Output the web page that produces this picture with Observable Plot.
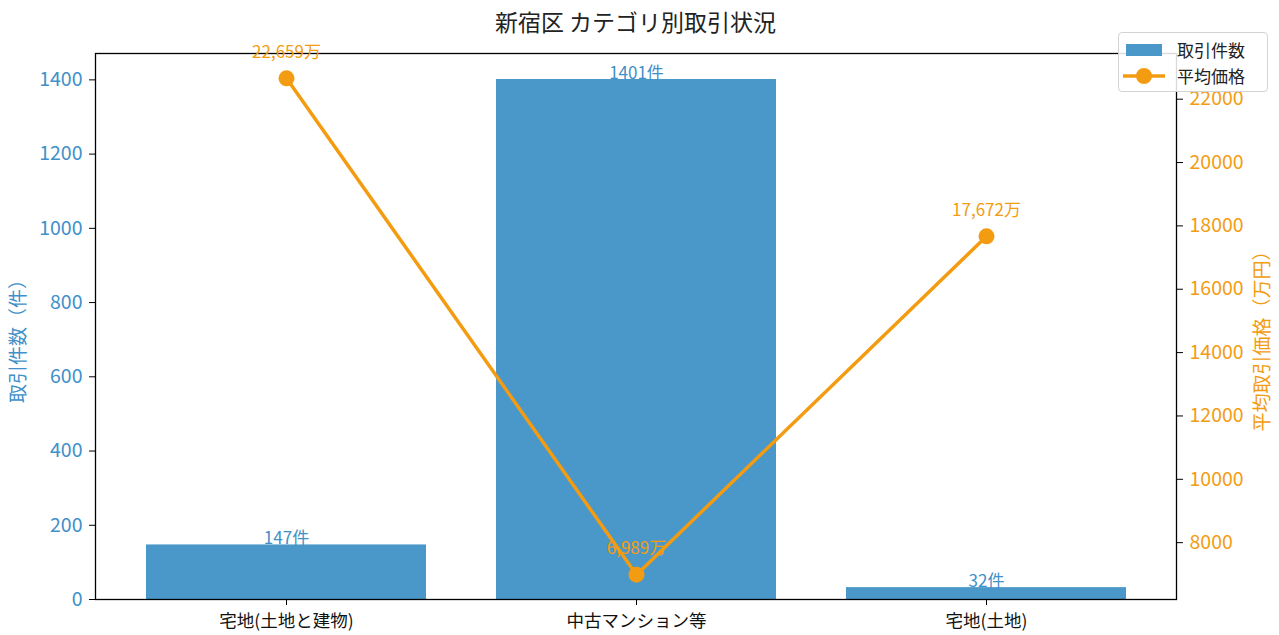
<!DOCTYPE html>
<html><head><meta charset="utf-8">
<script src="https://cdn.jsdelivr.net/npm/d3@7"></script>
<script src="https://cdn.jsdelivr.net/npm/@observablehq/plot@0.6"></script>
<style>
body{margin:0;background:#fff;font-family:"Noto Sans CJK JP",sans-serif;}
#wrap{position:relative;width:1279px;height:635px;overflow:hidden;}
#wrap svg.plot{position:absolute;left:0;top:0;}
#title{position:absolute;left:95px;width:1081px;top:6px;text-align:center;font-size:23px;line-height:30px;color:#222;}
#legend{position:absolute;left:1118px;top:32px;width:148px;height:58px;border:1px solid #d3d3d3;border-radius:4px;background:rgba(255,255,255,0.85);z-index:5;font-size:17px;color:#222;}
#legend .row{position:absolute;left:0;height:26px;line-height:26px;}
#legend svg{position:absolute;left:4px;top:0;}
#legend span{position:absolute;left:58px;top:0;white-space:nowrap;}
</style></head><body>
<div id="wrap"><div id="title"></div><div id="legend"></div></div>
<script>
const title = "新宿区 カテゴリ別取引状況";
const categories = ["宅地(土地と建物)", "中古マンション等", "宅地(土地)"];
const counts = [147, 1401, 32];
const avgPrices = [22659, 6989, 17672];
const countTicks = [0, 200, 400, 600, 800, 1000, 1200, 1400];
const priceTicks = [8000, 10000, 12000, 14000, 16000, 18000, 20000, 22000];
const countLabel = "取引件数（件）";
const priceLabel = "平均取引価格（万円）";
const legendLabels = ["取引件数", "平均価格"];

const BLUE = "#4a97c9";
const BLUE_TXT = "#4190c8";
const ORANGE = "#f39c12";
const FONT = "'Noto Sans CJK JP', sans-serif";

const data = categories.map((c, i) => ({cat: c, count: counts[i], price: avgPrices[i]}));
const W = 1279, H = 635;
const margins = {marginTop: 53, marginRight: 103, marginBottom: 36, marginLeft: 95};
const xScale = {type: "band", domain: categories, paddingInner: 0.2, paddingOuter: 0.14, axis: null};
const style = {fontFamily: FONT, fontSize: "17px", background: "transparent", overflow: "visible"};

const cMax = d3.max(counts);
const p1 = Plot.plot({
  width: W, height: H, ...margins, style,
  x: xScale,
  y: {domain: [0, cMax * 1.05], axis: null},
  marks: [
    Plot.barY(data, {x: "cat", y: "count", fill: BLUE}),
    Plot.text(data, {x: "cat", y: "count", text: d => `${d.count}件`, lineAnchor: "bottom", dy: -1, fill: BLUE_TXT, fontSize: 17}),
    Plot.axisY(countTicks, {anchor: "left", tickSize: 6, tickPadding: 7, stroke: "#000", fill: BLUE_TXT, fontSize: 19.5, tickFormat: d3.format("d"), label: null}),
    Plot.axisX({tickSize: 6, tickPadding: 9, stroke: "#000", fill: "#111", fontSize: 17.5, label: null}),
    Plot.text([countLabel], {frameAnchor: "left", textAnchor: "middle", rotate: -90, dx: -77, dy: 10, fill: BLUE_TXT, fontSize: 19}),
    Plot.frame({stroke: "#000", strokeWidth: 1.3})
  ]
});

const pMin = d3.min(avgPrices), pMax = d3.max(avgPrices), pr = pMax - pMin;
const p2 = Plot.plot({
  width: W, height: H, ...margins, style,
  x: xScale,
  y: {domain: [pMin - 0.05 * pr, pMax + 0.05 * pr], axis: null},
  marks: [
    Plot.lineY(data, {x: "cat", y: "price", stroke: ORANGE, strokeWidth: 3.5}),
    Plot.dot(data, {x: "cat", y: "price", r: 8, fill: ORANGE}),
    Plot.text(data, {x: "cat", y: "price", text: d => `${d3.format(",")(d.price)}万`, dy: -26, fill: ORANGE, fontSize: 17}),
    Plot.axisY(priceTicks, {anchor: "right", tickSize: 6, tickPadding: 7, stroke: "#000", fill: ORANGE, fontSize: 19.5, tickFormat: d3.format("d"), label: null}),
    Plot.text([priceLabel], {frameAnchor: "right", textAnchor: "middle", rotate: -90, dx: 86, dy: 10, fill: ORANGE, fontSize: 19})
  ]
});

const wrap = document.getElementById("wrap");
p1.classList.add("plot"); p2.classList.add("plot");
wrap.appendChild(p1);
wrap.appendChild(p2);
document.getElementById("title").textContent = title;

const legend = document.getElementById("legend");
const ns = "http://www.w3.org/2000/svg";
legendLabels.forEach((lab, i) => {
  const row = document.createElement("div");
  row.className = "row";
  row.style.top = (4 + i * 26) + "px";
  row.style.width = "148px";
  const s = document.createElementNS(ns, "svg");
  s.setAttribute("width", 46); s.setAttribute("height", 26);
  if (i === 0) {
    const r = document.createElementNS(ns, "rect");
    r.setAttribute("x", 3); r.setAttribute("y", 7); r.setAttribute("width", 36); r.setAttribute("height", 12);
    r.setAttribute("fill", BLUE);
    s.appendChild(r);
  } else {
    const l = document.createElementNS(ns, "line");
    l.setAttribute("x1", 0); l.setAttribute("x2", 42); l.setAttribute("y1", 13); l.setAttribute("y2", 13);
    l.setAttribute("stroke", ORANGE); l.setAttribute("stroke-width", 3.5);
    const c = document.createElementNS(ns, "circle");
    c.setAttribute("cx", 21); c.setAttribute("cy", 13); c.setAttribute("r", 8); c.setAttribute("fill", ORANGE);
    s.appendChild(l); s.appendChild(c);
  }
  const t = document.createElement("span");
  t.textContent = lab;
  row.appendChild(s); row.appendChild(t);
  legend.appendChild(row);
});
</script>
</body></html>
